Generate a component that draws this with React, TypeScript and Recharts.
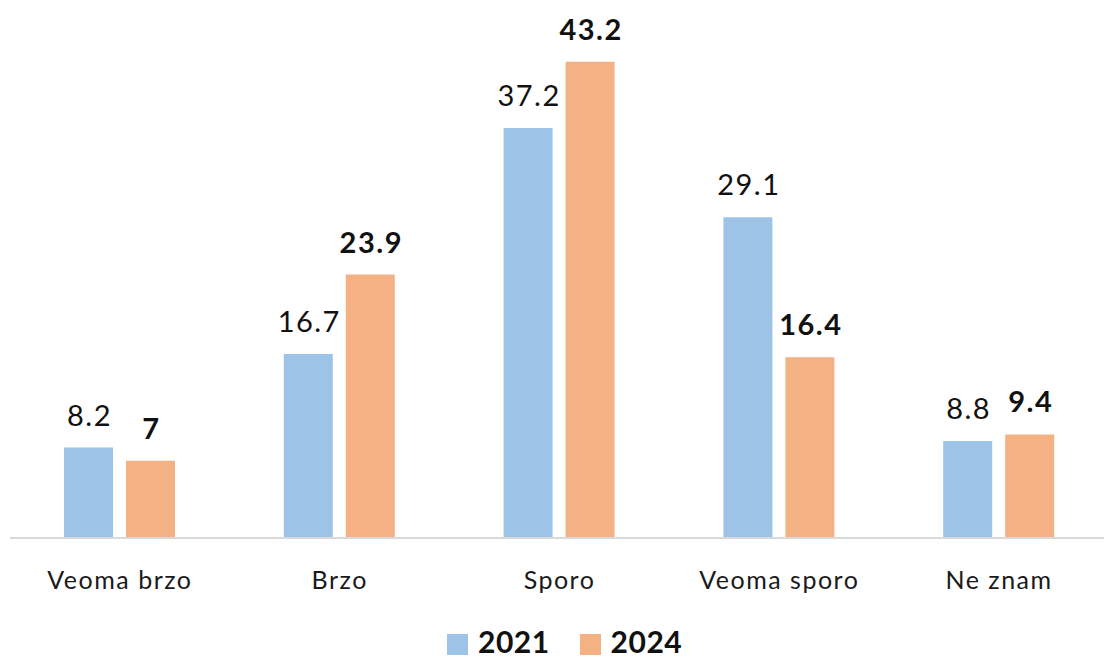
import { BarChart, Bar, XAxis, YAxis, LabelList } from "recharts";

const categories = ["Veoma brzo", "Brzo", "Sporo", "Veoma sporo", "Ne znam"];
const values2021 = [8.2, 16.7, 37.2, 29.1, 8.8];
const values2024 = [7, 23.9, 43.2, 16.4, 9.4];

const COLOR_2021 = "#9DC3E6";
const COLOR_2024 = "#F4B183";
const FONT = "Lato, 'Open Sans', sans-serif";

const data = categories.map((name, i) => ({
  name,
  "2021": values2021[i],
  "2024": values2024[i],
}));

const legendItems = [
  { label: "2021", color: COLOR_2021 },
  { label: "2024", color: COLOR_2024 },
];

function CategoryTick(props: any) {
  const { x, y, payload } = props;
  return (
    <text x={x} y={y + 51} textAnchor="middle" fontFamily={FONT} fontSize={25}
      letterSpacing={1.5} fill="#1a1a1a">
      {payload.value}
    </text>
  );
}

function makeLabel(bold: boolean) {
  return (p: any) => (
    <text x={p.x + p.width / 2 + 1} y={p.y - 22} textAnchor="middle" fontFamily={FONT}
      fontSize={29} fontWeight={bold ? 700 : 400} letterSpacing={1.5} fill="#111">
      {p.value}
    </text>
  );
}

export default function App() {
  return (
    <div style={{ position: "absolute", left: 0, top: 0, width: 1104, height: 657, overflow: "hidden", background: "#fff" }}>
      <BarChart width={1110} height={657} data={data} barSize={49} barGap={13}
        margin={{ top: 42, right: 1, bottom: 99, left: 10 }}>
        <XAxis dataKey="name" type="category" axisLine={{ stroke: "#D9D9D9", strokeWidth: 2 }}
          tickLine={false} tickSize={0} tickMargin={0} tick={<CategoryTick />} height={20} />
        <YAxis type="number" domain={[0, 45]} hide />
        <Bar dataKey="2021" fill={COLOR_2021} isAnimationActive={false}>
          <LabelList dataKey="2021" content={makeLabel(false)} />
        </Bar>
        <Bar dataKey="2024" fill={COLOR_2024} isAnimationActive={false}>
          <LabelList dataKey="2024" content={makeLabel(true)} />
        </Bar>
      </BarChart>
      {/* legend drawn outside the chart so it does not shrink the plot */}
      <div style={{ position: "absolute", top: 626, left: 447, display: "flex", gap: 30, fontFamily: FONT }}>
        {legendItems.map(item => (
          <div key={item.label} style={{ display: "flex", alignItems: "center", gap: 10 }}>
            <span style={{ width: 21, height: 21, background: item.color, display: "inline-block", marginTop: 6 }} />
            <span style={{ fontSize: 30, fontWeight: 700, color: "#111", lineHeight: "30px", letterSpacing: 0.5 }}>{item.label}</span>
          </div>
        ))}
      </div>
    </div>
  );
}
